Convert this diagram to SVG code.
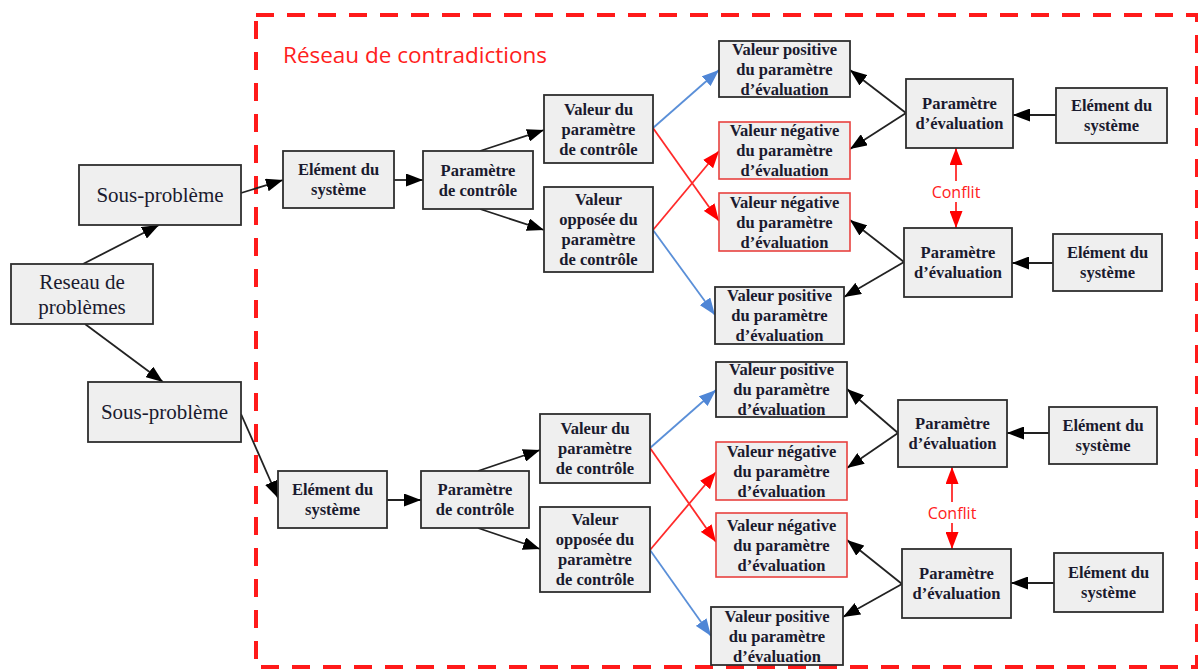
<svg xmlns="http://www.w3.org/2000/svg" width="1198" height="670" viewBox="0 0 1198 670">
<style>
.bx{fill:#efefef;stroke:#2e2e2e;stroke-width:1.8}
.rb{fill:#efefef;stroke:#e8413f;stroke-width:1.6}
.t{font-family:"Liberation Serif","Times New Roman",serif;font-weight:bold;font-size:16.5px;fill:#1a1a2e;text-anchor:middle}
.tl{font-family:"Liberation Serif","Times New Roman",serif;font-size:21px;fill:#1a1a2e;text-anchor:middle}
.k{stroke:#222;stroke-width:1.8;fill:none}
.b{stroke:#5a8fd8;stroke-width:1.8;fill:none}
.r{stroke:#ff2a2a;stroke-width:1.8;fill:none}
.rs{font-family:"Open Sans","Liberation Sans",sans-serif;fill:#ff2020}
</style>
<defs>
<marker id="ak" markerUnits="userSpaceOnUse" markerWidth="18" markerHeight="13" refX="17" refY="6.5" orient="auto"><path d="M0,0 L17,6.5 L0,13 z" fill="#000"/></marker>
<marker id="ab" markerUnits="userSpaceOnUse" markerWidth="18" markerHeight="13" refX="17" refY="6.5" orient="auto"><path d="M0,0 L17,6.5 L0,13 z" fill="#4f86d6"/></marker>
<marker id="ar" markerUnits="userSpaceOnUse" markerWidth="18" markerHeight="13" refX="17" refY="6.5" orient="auto-start-reverse"><path d="M0,0 L17,6.5 L0,13 z" fill="#ff0000"/></marker>
</defs>
<rect width="1198" height="670" fill="#fff"/>
<g id="frame">
<rect x="256" y="15" width="941" height="652" fill="none" stroke="#ff1a1a" stroke-width="4" stroke-dasharray="18 13"/>
<text class="rs" x="283" y="63" font-size="21" textLength="264" lengthAdjust="spacingAndGlyphs">Réseau de contradictions</text>
</g>
<g id="connectors">
<line class="k" x1="83" y1="264" x2="159" y2="225" marker-end="url(#ak)"/>
<line class="k" x1="85" y1="324" x2="163" y2="382" marker-end="url(#ak)"/>
<line class="k" x1="241" y1="193" x2="283" y2="180" marker-end="url(#ak)"/>
<line class="k" x1="241" y1="414" x2="278" y2="498" marker-end="url(#ak)"/>
<line class="k" x1="394" y1="180" x2="423" y2="180" marker-end="url(#ak)"/>
<line class="k" x1="387" y1="500" x2="421" y2="500" marker-end="url(#ak)"/>
<line class="k" x1="480" y1="151" x2="544" y2="130" marker-end="url(#ak)"/>
<line class="k" x1="480" y1="209" x2="544" y2="230" marker-end="url(#ak)"/>
<line class="k" x1="478" y1="471" x2="540" y2="450" marker-end="url(#ak)"/>
<line class="k" x1="478" y1="528" x2="540" y2="549" marker-end="url(#ak)"/>
<line class="b" x1="653" y1="128" x2="719" y2="70" marker-end="url(#ab)"/>
<line class="r" x1="653" y1="128" x2="719" y2="221" marker-end="url(#ar)"/>
<line class="r" x1="653" y1="230" x2="719" y2="151" marker-end="url(#ar)"/>
<line class="b" x1="653" y1="230" x2="715" y2="315" marker-end="url(#ab)"/>
<line class="b" x1="650" y1="448" x2="716" y2="390" marker-end="url(#ab)"/>
<line class="r" x1="650" y1="448" x2="716" y2="542" marker-end="url(#ar)"/>
<line class="r" x1="650" y1="550" x2="716" y2="472" marker-end="url(#ar)"/>
<line class="b" x1="650" y1="550" x2="711" y2="636" marker-end="url(#ab)"/>
<line class="k" x1="906" y1="113" x2="850" y2="70" marker-end="url(#ak)"/>
<line class="k" x1="906" y1="113" x2="850" y2="149" marker-end="url(#ak)"/>
<line class="k" x1="904" y1="262" x2="850" y2="220" marker-end="url(#ak)"/>
<line class="k" x1="904" y1="262" x2="844" y2="297" marker-end="url(#ak)"/>
<line class="k" x1="898" y1="433" x2="847" y2="389" marker-end="url(#ak)"/>
<line class="k" x1="898" y1="433" x2="847" y2="468" marker-end="url(#ak)"/>
<line class="k" x1="902" y1="584" x2="847" y2="540" marker-end="url(#ak)"/>
<line class="k" x1="902" y1="584" x2="843" y2="617" marker-end="url(#ak)"/>
<line class="k" x1="1056" y1="115" x2="1013" y2="115" marker-end="url(#ak)"/>
<line class="k" x1="1053" y1="263" x2="1012" y2="263" marker-end="url(#ak)"/>
<line class="k" x1="1049" y1="433" x2="1007" y2="433" marker-end="url(#ak)"/>
<line class="k" x1="1054" y1="583" x2="1011" y2="583" marker-end="url(#ak)"/>
<line class="r" x1="956" y1="148" x2="956" y2="228" stroke-width="2.2" marker-start="url(#ar)" marker-end="url(#ar)"/>
<rect x="927" y="181" width="58" height="21" fill="#fff"/>
<text class="rs" x="956" y="197.5" font-size="16" text-anchor="middle">Conflit</text>
<line class="r" x1="952" y1="467" x2="952" y2="549" stroke-width="2.2" marker-start="url(#ar)" marker-end="url(#ar)"/>
<rect x="923" y="502" width="58" height="21" fill="#fff"/>
<text class="rs" x="952" y="518.5" font-size="16" text-anchor="middle">Conflit</text>
</g>
<g id="n_reseau"><rect class="bx" x="11" y="264" width="142" height="60"/><text class="tl" x="82" y="289">Reseau de</text><text class="tl" x="82" y="314">problèmes</text></g>
<g id="n_sp1"><rect class="bx" x="79" y="165" width="162" height="60"/><text class="tl" x="160" y="202">Sous-problème</text></g>
<g id="n_sp2"><rect class="bx" x="88" y="382" width="153" height="60"/><text class="tl" x="164.5" y="419">Sous-problème</text></g>

<g id="n_e1"><rect class="bx" x="283" y="151" width="111" height="57"/><text class="t" x="338.5" y="175">Elément du</text><text class="t" x="338.5" y="195">système</text></g>
<g id="n_pc1"><rect class="bx" x="423" y="151" width="110" height="58"/><text class="t" x="478" y="175.5">Paramètre</text><text class="t" x="478" y="195.5">de contrôle</text></g>
<g id="n_vd1"><rect class="bx" x="544" y="95" width="109" height="68"/><text class="t" x="598.5" y="115">Valeur du</text><text class="t" x="598.5" y="135">paramètre</text><text class="t" x="598.5" y="155">de contrôle</text></g>
<g id="n_vo1"><rect class="bx" x="544" y="187" width="109" height="85"/><text class="t" x="598.5" y="205">Valeur</text><text class="t" x="598.5" y="225">opposée du</text><text class="t" x="598.5" y="245">paramètre</text><text class="t" x="598.5" y="265">de contrôle</text></g>
<g id="n_vp1"><rect class="bx" x="719" y="41" width="131" height="56"/><text class="t" x="784.5" y="55">Valeur positive</text><text class="t" x="784.5" y="75">du paramètre</text><text class="t" x="784.5" y="95">d’évaluation</text></g>
<g id="n_vn1"><rect class="rb" x="719" y="122" width="131" height="57"/><text class="t" x="784.5" y="136">Valeur négative</text><text class="t" x="784.5" y="156">du paramètre</text><text class="t" x="784.5" y="176">d’évaluation</text></g>
<g id="n_vn2"><rect class="rb" x="719" y="193" width="131" height="58"/><text class="t" x="784.5" y="208">Valeur négative</text><text class="t" x="784.5" y="228">du paramètre</text><text class="t" x="784.5" y="248">d’évaluation</text></g>
<g id="n_vp2"><rect class="bx" x="715" y="287" width="129" height="57"/><text class="t" x="779.5" y="301">Valeur positive</text><text class="t" x="779.5" y="321">du paramètre</text><text class="t" x="779.5" y="341">d’évaluation</text></g>
<g id="n_pe1"><rect class="bx" x="906" y="79" width="107" height="69"/><text class="t" x="959.5" y="109">Paramètre</text><text class="t" x="959.5" y="129">d’évaluation</text></g>
<g id="n_es1"><rect class="bx" x="1056" y="88" width="111" height="55"/><text class="t" x="1111.5" y="111">Elément du</text><text class="t" x="1111.5" y="131">système</text></g>
<g id="n_pe2"><rect class="bx" x="904" y="228" width="108" height="69"/><text class="t" x="958" y="258">Paramètre</text><text class="t" x="958" y="278">d’évaluation</text></g>
<g id="n_es2"><rect class="bx" x="1053" y="234" width="109" height="57"/><text class="t" x="1107.5" y="258">Elément du</text><text class="t" x="1107.5" y="278">système</text></g>

<g id="n_e2"><rect class="bx" x="278" y="471" width="109" height="57"/><text class="t" x="332.5" y="495">Elément du</text><text class="t" x="332.5" y="515">système</text></g>
<g id="n_pc2"><rect class="bx" x="421" y="471" width="108" height="57"/><text class="t" x="475" y="495">Paramètre</text><text class="t" x="475" y="515">de contrôle</text></g>
<g id="n_vd2"><rect class="bx" x="540" y="414" width="110" height="69"/><text class="t" x="595" y="434">Valeur du</text><text class="t" x="595" y="454">paramètre</text><text class="t" x="595" y="474">de contrôle</text></g>
<g id="n_vo2"><rect class="bx" x="540" y="507" width="110" height="85"/><text class="t" x="595" y="525">Valeur</text><text class="t" x="595" y="545">opposée du</text><text class="t" x="595" y="565">paramètre</text><text class="t" x="595" y="585">de contrôle</text></g>
<g id="n_vp3"><rect class="bx" x="716" y="362" width="131" height="55"/><text class="t" x="781.5" y="375">Valeur positive</text><text class="t" x="781.5" y="395">du paramètre</text><text class="t" x="781.5" y="415">d’évaluation</text></g>
<g id="n_vn3"><rect class="rb" x="716" y="442" width="131" height="58"/><text class="t" x="781.5" y="456.5">Valeur négative</text><text class="t" x="781.5" y="476.5">du paramètre</text><text class="t" x="781.5" y="496.5">d’évaluation</text></g>
<g id="n_vn4"><rect class="rb" x="716" y="513" width="131" height="64"/><text class="t" x="781.5" y="530.5">Valeur négative</text><text class="t" x="781.5" y="550.5">du paramètre</text><text class="t" x="781.5" y="570.5">d’évaluation</text></g>
<g id="n_vp4"><rect class="bx" x="711" y="607" width="132" height="58"/><text class="t" x="777" y="621.5">Valeur positive</text><text class="t" x="777" y="641.5">du paramètre</text><text class="t" x="777" y="661.5">d’évaluation</text></g>
<g id="n_pe3"><rect class="bx" x="898" y="400" width="109" height="67"/><text class="t" x="952.5" y="429">Paramètre</text><text class="t" x="952.5" y="449">d’évaluation</text></g>
<g id="n_es3"><rect class="bx" x="1049" y="407" width="108" height="57"/><text class="t" x="1103" y="431">Elément du</text><text class="t" x="1103" y="451">système</text></g>
<g id="n_pe4"><rect class="bx" x="902" y="549" width="109" height="69"/><text class="t" x="956.5" y="579">Paramètre</text><text class="t" x="956.5" y="599">d’évaluation</text></g>
<g id="n_es4"><rect class="bx" x="1054" y="553" width="109" height="59"/><text class="t" x="1108.5" y="578">Elément du</text><text class="t" x="1108.5" y="598">système</text></g>
</svg>
